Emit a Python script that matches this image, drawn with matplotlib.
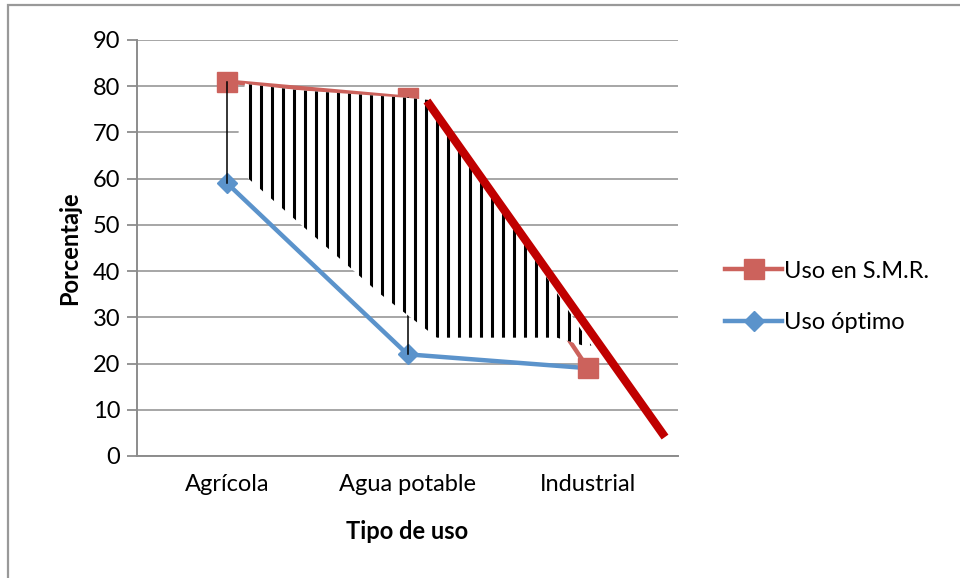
import numpy as np
import matplotlib.pyplot as plt
from matplotlib.patches import Polygon, Rectangle

plt.rcParams['font.family'] = ['Lato', 'DejaVu Sans']

# datos
tipos = ['Agrícola', 'Agua potable', 'Industrial']
uso_smr = [81, 77.5, 19]
uso_optimo = [59, 22, 19]

# zona rayada (coordenadas de datos) y recta de tendencia dibujada encima
zona_x = [0.099, 0.071, 0.06, 0.115, 0.847, 1.163, 1.829, 1.973, 2.02, 1.125, 0.993, 0.404, 0.12]
zona_y = [80.6, 73.8, 68.3, 60.1, 35.1, 25.6, 25.6, 23.9, 23.9, 77.0, 77.5, 79.1, 80.4]
recta_x = [1.108, 2.428]
recta_y = [76.8, 4.1]

rojo = '#CC625C'
azul = '#5B93CB'

fig = plt.figure(figsize=(9.6, 5.78), dpi=100)
ax = fig.add_axes([137 / 960, 1 - 456 / 578, 541 / 960, 416 / 578])

x = np.arange(len(tipos))
l1, = ax.plot(x, uso_smr, color=rojo, lw=3.2, marker='s', ms=14, mec=rojo, label='Uso en S.M.R.', zorder=3.5)
l2, = ax.plot(x, uso_optimo, color=azul, lw=3.2, marker='D', ms=10, mec=azul, label='Uso óptimo', zorder=3)

# lineas de máximos y mínimos
for xi, a, b in zip(x, uso_smr, uso_optimo):
    if a != b:
        ax.plot([xi, xi], [a, b], color='black', lw=1.1, zorder=4)

# zona rayada con lineas verticales
zona = Polygon(np.column_stack([zona_x, zona_y]), closed=True, facecolor='white', edgecolor='none', zorder=5)
ax.add_patch(zona)
paso = 11 / 180.3
for xv in np.arange(0.127, 2.1, paso):
    ln, = ax.plot([xv, xv], [0, 90], color='black', lw=2.2, zorder=6, solid_capstyle='butt')
    ln.set_clip_path(zona)

ax.plot(recta_x, recta_y, color='#C00000', lw=6, zorder=7, solid_capstyle='butt', clip_on=False)

ax.set_xlim(-0.5, 2.5)
ax.set_ylim(0, 90)
ax.set_yticks(range(0, 91, 10))
ax.set_xticks(x)
ax.set_xticklabels(tipos)
ax.tick_params(axis='x', length=0, pad=13, labelsize=17)
ax.tick_params(axis='y', length=7, width=1.3, color='#8C8C8C', pad=5, labelsize=17)
ax.grid(axis='y', color='#A6A6A6', lw=1.4)
ax.set_axisbelow(True)
for s in ['top', 'right']:
    ax.spines[s].set_visible(False)
for s in ['left', 'bottom']:
    ax.spines[s].set_color('#8C8C8C')
    ax.spines[s].set_linewidth(1.4)

ax.set_xlabel('Tipo de uso', fontsize=17, fontweight='bold', labelpad=18)
ax.set_ylabel('Porcentaje', fontsize=17, fontweight='bold', labelpad=8)

ax.legend(handles=[l1, l2], loc='center left', bbox_to_anchor=(1.07, 0.382), frameon=False, fontsize=17,
          handlelength=2.4, handletextpad=0.1, labelspacing=1.3, borderaxespad=0)

# marco del gráfico
fig.patches.append(Rectangle((8 / 960, -0.1), 1.1, (1 - 5 / 578) + 0.1, transform=fig.transFigure,
                             fill=False, edgecolor='#999999', lw=1.6, clip_on=False))

fig.savefig('out.png', dpi=100)
